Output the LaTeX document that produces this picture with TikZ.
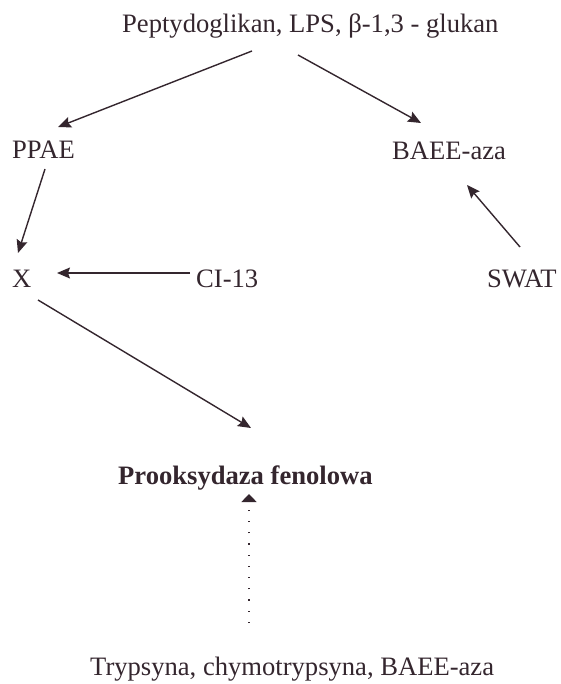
\documentclass[tikz,border=0pt]{standalone}
\usepackage{fontspec}
\setmainfont{Liberation Serif}
\usetikzlibrary{arrows.meta}
\definecolor{ink}{RGB}{52,38,46}
\begin{document}
\begin{tikzpicture}[x=1pt,y=-1pt,
  lbl/.style={text=ink,font=\fontsize{26.6}{30}\selectfont,inner sep=0pt,anchor=base west},
  conn/.style={draw=ink,line width=1.4pt,-{Stealth[length=13pt,width=11pt,inset=2pt]}},
  dotconn/.style={draw=ink,line width=1.4pt,dash pattern=on 1.2pt off 10pt,-{Triangle[length=8pt,width=15pt]}}]
\useasboundingbox (0,0) rectangle (560,684);
% labels
\node[lbl] (src)  at (122,33)  {Peptydoglikan, LPS, β-1,3 - glukan};
\node[lbl] (ppae) at (12,159)  {PPAE};
\node[lbl] (baee) at (392,160) {BAEE-aza};
\node[lbl] (x)    at (12,287)  {X};
\node[lbl] (ci)   at (196,287) {CI-13};
\node[lbl] (swat) at (487,287) {SWAT};
\node[lbl,font=\fontsize{26.6}{30}\selectfont\bfseries] (po) at (118,484) {Prooksydaza fenolowa};
\node[lbl] (tr)   at (90,675)  {Trypsyna, chymotrypsyna, BAEE-aza};
% connector end points
\coordinate (srcL) at (252,51);
\coordinate (srcR) at (298,55);
\coordinate (ppaeT) at (58,127);
\coordinate (baeeT) at (421,123);
\coordinate (ppaeB) at (45,169);
\coordinate (xT) at (18,253);
\coordinate (ciW) at (190,273);
\coordinate (xE) at (57,273);
\coordinate (swatN) at (520,247);
\coordinate (baeeS) at (467,185);
\coordinate (xS) at (38,300);
\coordinate (poN) at (251,428);
\coordinate (trN) at (249,623);
\coordinate (poS) at (249,494);
% connectors
\draw[conn] (srcL) -- (ppaeT);
\draw[conn] (srcR) -- (baeeT);
\draw[conn] (ppaeB) -- (xT);
\draw[conn] (ciW) -- (xE);
\draw[conn] (swatN) -- (baeeS);
\draw[conn] (xS) -- (poN);
\draw[dotconn] (trN) -- (poS);
\end{tikzpicture}
\end{document}
